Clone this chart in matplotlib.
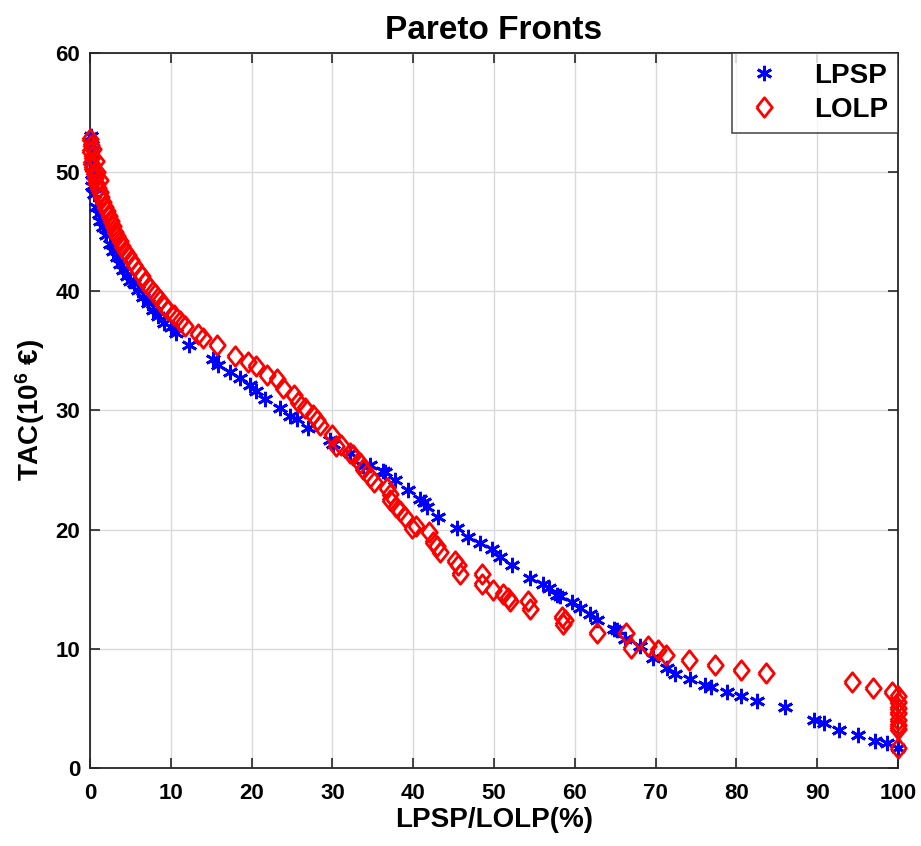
import matplotlib
matplotlib.use("Agg")
import matplotlib.pyplot as plt
import numpy as np

plt.rcParams['font.family'] = ['Liberation Sans', 'DejaVu Sans']
plt.rcParams['mathtext.fontset'] = 'custom'
plt.rcParams['mathtext.rm'] = 'Liberation Sans:bold'
plt.rcParams['mathtext.bf'] = 'Liberation Sans:bold'
plt.rcParams['mathtext.it'] = 'Liberation Sans:bold'

lpsp_x = [0.1, 0.2, 0.2, 0.3, 0.4, 0.3, 0.2, 0.5, 0.8, 1.1, 1.3, 1.6, 2.0, 2.5, 2.9, 3.3, 3.7, 4.1,
          4.6, 5.0, 5.4, 6.0, 6.6, 7.2, 7.8, 8.4, 9.1, 10.0, 10.7, 12.2, 15.2, 15.9, 17.3, 18.6,
          19.8, 20.6, 21.7, 23.5, 24.8, 25.6, 27.0, 29.7, 30.1, 32.2, 33.8, 34.7, 36.3, 36.5,
          37.7, 39.4, 40.8, 41.3, 41.7, 43.1, 45.4, 46.8, 48.3, 49.7, 50.7, 52.2, 54.5, 56.1,
          56.8, 57.8, 58.2, 59.7, 60.6, 61.9, 62.7, 64.8, 65.2, 66.2, 68.1, 69.7, 71.4, 72.4,
          74.3, 76.1, 76.9, 78.8, 80.6, 82.5, 86.0, 89.6, 90.8, 92.7, 95.1, 97.1, 98.6, 100.0]
lpsp_y = [53.0, 52.3, 51.6, 51.0, 50.4, 49.8, 48.8, 48.2, 47.1, 46.5, 45.9, 45.4, 44.7, 44.0, 43.4,
          42.9, 42.3, 41.8, 41.3, 40.9, 40.7, 40.1, 39.5, 39.0, 38.4, 37.9, 37.3, 37.0, 36.5,
          35.5, 34.3, 33.8, 33.2, 32.7, 32.1, 31.6, 31.0, 30.2, 29.5, 29.3, 28.5, 27.5, 27.2,
          26.4, 25.3, 25.4, 24.9, 24.8, 24.2, 23.3, 22.6, 22.3, 21.9, 21.1, 20.1, 19.4, 18.9,
          18.4, 17.7, 17.0, 15.9, 15.4, 15.1, 14.5, 14.4, 13.95, 13.4, 12.9, 12.4, 11.7, 11.6,
          10.8, 10.2, 9.2, 8.4, 7.9, 7.5, 7.0, 6.8, 6.4, 6.0, 5.6, 5.1, 4.0, 3.75, 3.2, 2.8,
          2.3, 2.1, 1.7]

lolp_x = [0.0, 0.1, 0.0, 0.2, 0.1, 0.3, 0.5, 0.6, 0.8, 1.0, 1.2, 1.4, 1.6, 1.8, 2.1, 2.3, 2.6,
          2.9, 3.1, 3.4, 3.7, 4.0, 4.3, 4.7, 5.1, 5.5, 5.9, 6.4, 6.8, 7.4, 8.0, 8.7, 9.2, 9.7,
          10.4, 11.1, 11.8, 13.4, 14.0, 15.7, 17.9, 19.6, 20.6, 21.9, 23.1, 23.9, 25.2, 25.8,
          26.6, 27.6, 28.1, 28.5, 29.9, 30.5, 31.1, 32.2, 32.6, 33.4, 33.8, 34.7, 35.1, 36.7,
          37.1, 37.1, 37.9, 38.4, 39.0, 39.8, 40.3, 41.9, 42.5, 43.0, 43.3, 45.2, 45.5, 45.8,
          48.5, 48.5, 49.9, 51.1, 51.7, 52.0, 54.2, 54.5, 58.4, 58.6, 58.8, 62.8, 66.4, 66.9,
          69.1, 70.3, 71.3, 74.1, 77.4, 80.6, 83.7, 94.3, 96.9, 99.2, 100.0, 100.0, 100.0,
          100.0, 100.0, 100.0, 100.0, 100.0, 0.4, 0.7, 0.9, 1.2]
lolp_y = [52.8, 52.3, 51.8, 51.3, 50.8, 50.3, 49.9, 49.5, 49.1, 48.7, 48.3, 47.9, 47.5, 47.1,
          46.7, 46.3, 45.9, 45.5, 45.0, 44.6, 44.2, 43.8, 43.4, 43.0, 42.6, 42.2, 41.7, 41.3,
          40.8, 40.3, 39.8, 39.3, 38.8, 38.4, 38.0, 37.5, 37.1, 36.4, 36.1, 35.5, 34.6, 34.1,
          33.7, 33.0, 32.6, 31.9, 31.3, 30.7, 30.2, 29.6, 29.2, 28.8, 27.9, 27.0, 27.1, 26.4,
          26.3, 25.6, 25.1, 24.4, 24.0, 23.5, 23.0, 22.5, 21.9, 21.6, 21.1, 20.1, 20.3, 19.8,
          19.0, 18.6, 18.1, 17.4, 17.0, 16.3, 16.3, 15.4, 14.9, 14.6, 14.3, 14.0, 14.0, 13.3,
          12.7, 12.1, 12.4, 11.3, 11.3, 10.1, 10.2, 9.9, 9.5, 9.1, 8.6, 8.2, 8.0, 7.2, 6.7,
          6.4, 6.0, 5.5, 5.0, 4.6, 4.0, 3.6, 3.3, 1.7, 51.9, 50.9, 50.0, 49.3]

x_ticks = [0, 10, 20, 30, 40, 50, 60, 70, 80, 90, 100]
y_ticks = [0, 10, 20, 30, 40, 50, 60]

fig = plt.figure(figsize=(9.21, 8.46), dpi=100)
ax = fig.add_axes([0.0977, 0.0922, 0.8773, 0.8453])

diamond = [(-0.8, 0), (0, 1), (0.8, 0), (0, -1), (-0.8, 0)]

ax.plot(lpsp_x, lpsp_y, linestyle='none', marker=(6, 2, 0), markersize=11,
        markeredgewidth=2.0, color='#0000ff', label='LPSP', clip_on=False, zorder=3)
ax.plot(lolp_x, lolp_y, linestyle='none', marker=diamond, markersize=14,
        markeredgewidth=2.0, markerfacecolor='none', markeredgecolor='#ff0000',
        label='LOLP', clip_on=False, zorder=4)

ax.set_xlim(0, 100)
ax.set_ylim(0, 60)
ax.set_xticks(x_ticks)
ax.set_yticks(y_ticks)
ax.grid(True, color='#d9d9d9', linewidth=1.0)
ax.set_axisbelow(True)
ax.tick_params(direction='in', top=True, right=True, length=7, width=1.2,
               labelsize=16, color='#262626')
ax.tick_params(axis='x', pad=11)
ax.tick_params(axis='y', pad=7)
for lab in ax.get_xticklabels() + ax.get_yticklabels():
    lab.set_fontweight('bold')
for sp in ax.spines.values():
    sp.set_linewidth(1.3)
    sp.set_color('#262626')

ax.set_xlabel('LPSP/LOLP(%)', fontsize=20, fontweight='bold', labelpad=2)
ax.set_ylabel(r'TAC(10$^{6}$ €)', fontsize=20, fontweight='bold', labelpad=6)
ax.set_title('Pareto Fronts', fontsize=24, fontweight='bold', pad=10)

leg = ax.legend(loc='upper right', borderaxespad=0, prop={'weight': 'bold', 'size': 20},
                frameon=True, fancybox=False, edgecolor='#262626', handlelength=1.6,
                handletextpad=1.0, borderpad=0.35, labelspacing=0.3)
leg.get_frame().set_linewidth(1.2)

fig.savefig('out.png', dpi=100)
